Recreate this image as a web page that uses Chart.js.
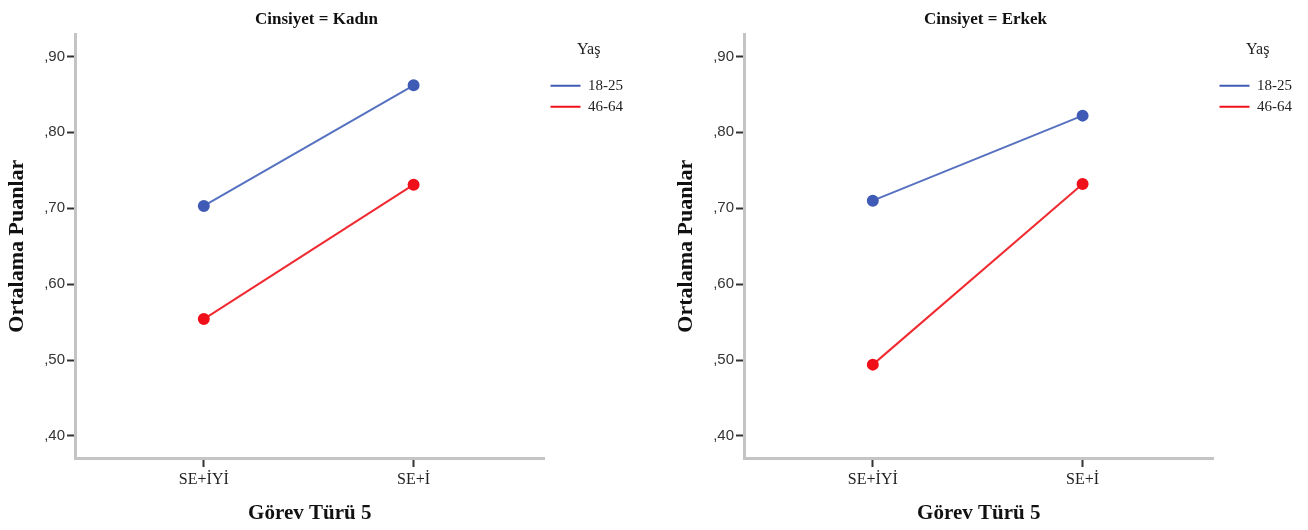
<!DOCTYPE html>
<html><head><meta charset="utf-8">
<script src="https://cdn.jsdelivr.net/npm/chart.js@4.4.0/dist/chart.umd.min.js"></script>
<style>
html,body{margin:0;padding:0;background:#fff;}
#wrap{position:relative;width:1308px;height:530px;}
.pane{position:absolute;top:0;height:530px;}
</style></head>
<body>
<div id="wrap">
<div class="pane" style="left:0;width:669px"><canvas id="c1" width="669" height="530"></canvas></div>
<div class="pane" style="left:669px;width:639px"><canvas id="c2" width="639" height="530"></canvas></div>
</div>
<script>
const categories = ['SE+İYİ', 'SE+İ'];
const seriesNames = ['18-25', '46-64'];
const panelTitles = ['Cinsiyet = Kadın', 'Cinsiyet = Erkek'];
const kadin1825 = [0.703, 0.862];
const kadin4664 = [0.554, 0.731];
const erkek1825 = [0.710, 0.822];
const erkek4664 = [0.494, 0.732];
const yTicks = [0.40, 0.50, 0.60, 0.70, 0.80, 0.90];
const legendTitle = 'Yaş';
const xTitle = 'Görev Türü 5';
const yTitle = 'Ortalama Puanlar';

const BLUE = '#3f5bb5', BLUE_LINE = '#5671c0', RED = '#f0101a', RED_LINE = '#ef2a30';
const SERIF = '"Liberation Serif", "Times New Roman", serif';
const SANS = '"Liberation Sans", Arial, sans-serif';

function makeChart(id, title, blueVals, redVals, padRight) {
  const mk = (vals, name, pc, lc) => ({
    label: name,
    data: vals.map((v, i) => ({x: i, y: v})),
    borderColor: lc, backgroundColor: pc,
    pointBackgroundColor: pc, pointBorderColor: pc,
    pointRadius: 5, pointHoverRadius: 5, borderWidth: 2, fill: false, tension: 0
  });
  return new Chart(document.getElementById(id), {
    type: 'line',
    data: { datasets: [mk(blueVals, seriesNames[0], BLUE, BLUE_LINE), mk(redVals, seriesNames[1], RED, RED_LINE)] },
    options: {
      responsive: false, animation: false, events: [],
      layout: { padding: { left: 0, right: padRight, top: 0, bottom: 0 } },
      plugins: {
        tooltip: { enabled: false },
        title: { display: true, text: title, color: '#111', font: { family: SERIF, size: 17, weight: 'bold' }, padding: { top: 9, bottom: 5 } },
        legend: {
          position: 'right', align: 'start',
          title: { display: true, text: legendTitle, color: '#222', font: { family: SERIF, size: 16 }, padding: { top: 42, bottom: 11 } },
          labels: { usePointStyle: true, pointStyle: 'line', pointStyleWidth: 30, boxHeight: 2, color: '#222', font: { family: SERIF, size: 15 }, padding: 6 }
        }
      },
      scales: {
        x: {
          type: 'linear', min: -0.614, max: 1.624,
          afterBuildTicks: s => { s.ticks = categories.map((c, i) => ({ value: i })); },
          afterFit: s => { s.height = 72; },
          ticks: { callback: v => categories[v], color: '#222', font: { family: SERIF, size: 16 }, padding: 3, autoSkip: false, maxRotation: 0 },
          grid: { display: true, drawOnChartArea: false, drawTicks: true, tickLength: 9, tickColor: '#333', tickWidth: 2 },
          border: { display: true, color: '#c4c4c4', width: 3 },
          title: { display: true, text: xTitle, color: '#111', font: { family: SERIF, size: 21, weight: 'bold' }, padding: { top: 4 } }
        },
        y: {
          type: 'linear', min: 0.371, max: 0.929,
          afterBuildTicks: s => { s.ticks = yTicks.map(v => ({ value: v })); },
          afterFit: s => { s.width = 75; },
          ticks: { callback: v => ',' + Math.round(v * 100), color: '#333', font: { family: SANS, size: 15 }, padding: 2 },
          grid: { display: true, drawOnChartArea: false, drawTicks: true, tickLength: 8, tickColor: '#333', tickWidth: 2 },
          border: { display: true, color: '#c4c4c4', width: 3 },
          title: { display: true, text: yTitle, color: '#111', font: { family: SERIF, size: 22, weight: 'bold' }, padding: { bottom: 0 } }
        }
      }
    }
  });
}
const ch1 = makeChart('c1', panelTitles[0], kadin1825, kadin4664, 36);
const ch2 = makeChart('c2', panelTitles[1], erkek1825, erkek4664, 6);
</script>
</body></html>
